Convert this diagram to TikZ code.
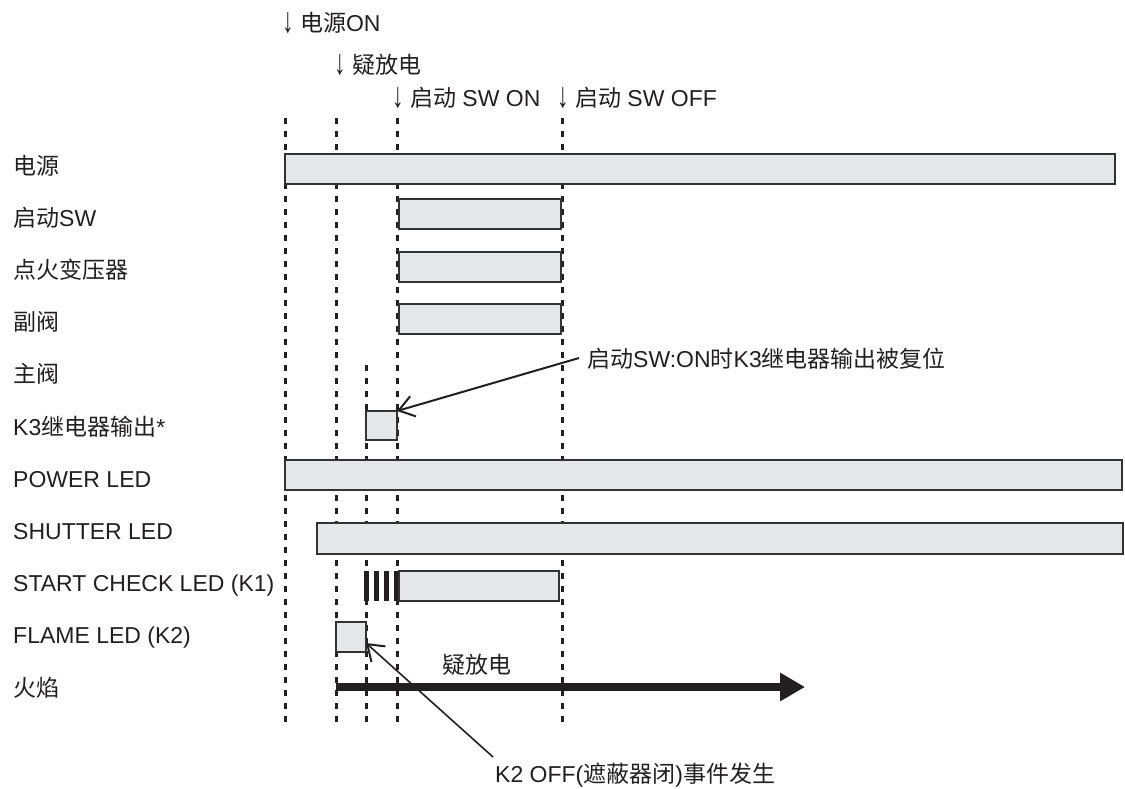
\documentclass[tikz,border=0pt]{standalone}
\usepackage{fontspec}
\usepackage{graphicx}
\setmainfont{Liberation Sans}
\newfontfamily\cjk{Noto Sans CJK SC}
\usetikzlibrary{arrows.meta,calc}
\definecolor{barfill}{HTML}{E6E7E8}
\definecolor{ink}{HTML}{231F20}
\definecolor{edge}{HTML}{333333}
\newcommand{\dnarrow}{\raisebox{-1pt}{\scalebox{1}[1.55]{↓}}}
\begin{document}
\begin{tikzpicture}[x=1pt,y=-1pt,
  every node/.style={font=\fontsize{23}{27}\selectfont, text=ink},
  lbl/.style={anchor=base west, inner sep=0pt},
  barbox/.style={draw=edge, line width=1.6pt, fill=barfill, inner sep=0pt, outer sep=0pt, anchor=north west},
  tickbar/.style={fill=ink, inner sep=0pt, outer sep=0pt, anchor=north west, minimum width=5pt, minimum height=30pt},
  guide/.style={draw=ink, line width=3pt, dash pattern=on 6pt off 7pt},
  lead/.style={draw=ink, line width=2pt, -{Straight Barb[length=15pt,width=21pt,line width=2pt]}},
  flamearrow/.style={draw=ink, line width=8pt, -{Triangle[length=25pt,width=27pt]}},
]
\useasboundingbox (0,0) rectangle (1125,788);

% guide lines
\coordinate (g1t) at (285,118); \coordinate (g1b) at (285,725);
\coordinate (g2t) at (336,118); \coordinate (g2b) at (336,725);
\coordinate (g3t) at (366,365); \coordinate (g3b) at (366,725);
\coordinate (g4t) at (397,118); \coordinate (g4b) at (397,725);
\coordinate (g5t) at (562,118); \coordinate (g5b) at (562,725);
\draw[guide] (g1t) -- (g1b);
\draw[guide] (g2t) -- (g2b);
\draw[guide] (g3t) -- (g3b);
\draw[guide] (g4t) -- (g4b);
\draw[guide] (g5t) -- (g5b);

% top event labels
\node[lbl] (t1) at (282,31.5) {\dnarrow\ {\cjk 电源}ON};
\node[lbl] (t2) at (334,73) {\dnarrow\ {\cjk 疑放电}};
\node[lbl] (t3) at (392,106) {\dnarrow\ {\cjk 启动} SW ON};
\node[lbl] (t4) at (557,106) {\dnarrow\ {\cjk 启动} SW OFF};

% row labels
\node[lbl] (r1) at (13,174) {{\cjk 电源}};
\node[lbl] (r2) at (13,226.2) {{\cjk 启动}SW};
\node[lbl] (r3) at (13,278.4) {{\cjk 点火变压器}};
\node[lbl] (r4) at (13,330.6) {{\cjk 副阀}};
\node[lbl] (r5) at (13,382.8) {{\cjk 主阀}};
\node[lbl] (r6) at (13,435) {K3{\cjk 继电器输出}*};
\node[lbl] (r7) at (13,487.2) {POWER LED};
\node[lbl] (r8) at (13,539.4) {SHUTTER LED};
\node[lbl] (r9) at (13,591.6) {START CHECK LED (K1)};
\node[lbl] (r10) at (13,643.8) {FLAME LED (K2)};
\node[lbl] (r11) at (13,696) {{\cjk 火焰}};

% bars
\node[barbox, minimum width=830pt, minimum height=30pt] (pwr) at (285,154) {};
\node[barbox, minimum width=162pt, minimum height=30pt] (sw) at (399,199) {};
\node[barbox, minimum width=162pt, minimum height=30pt] (ign) at (399,252) {};
\node[barbox, minimum width=162pt, minimum height=30pt] (pilot) at (399,304) {};
\node[barbox, minimum width=31pt, minimum height=29pt] (k3) at (366,411) {};
\node[barbox, minimum width=837pt, minimum height=30pt] (powerled) at (285,460) {};
\node[barbox, minimum width=806pt, minimum height=31pt] (shutter) at (317,523) {};
\node[tickbar] (s1) at (363.5,571) {};
\node[tickbar] (s2) at (374,571) {};
\node[tickbar] (s3) at (383.5,571) {};
\node[tickbar] (s4) at (394,571) {};
\node[barbox, minimum width=160pt, minimum height=30pt] (startbar) at (399,571) {};
\node[barbox, minimum width=30pt, minimum height=30pt] (flame) at (336,622) {};

% flame arrow
\coordinate (fa) at (336,687);
\coordinate (fb) at (805,687);
\draw[flamearrow] (fa) -- (fb);
\node[lbl] (fl) at (442,673) {{\cjk 疑放电}};

% annotations
\node[lbl] (note1) at (587,367) {{\cjk 启动}SW:ON{\cjk 时}K3{\cjk 继电器输出被复位}};
\coordinate (n1) at (579,358);
\draw[lead] (n1) -- (k3.north east);

\node[lbl] (note2) at (495,782) {K2 OFF({\cjk 遮蔽器闭}){\cjk 事件发生}};
\coordinate (n2) at (493,757);
\draw[lead, line width=1.6pt] (n2) -- ($(flame.south east)+(0,-9)$);
\end{tikzpicture}
\end{document}
